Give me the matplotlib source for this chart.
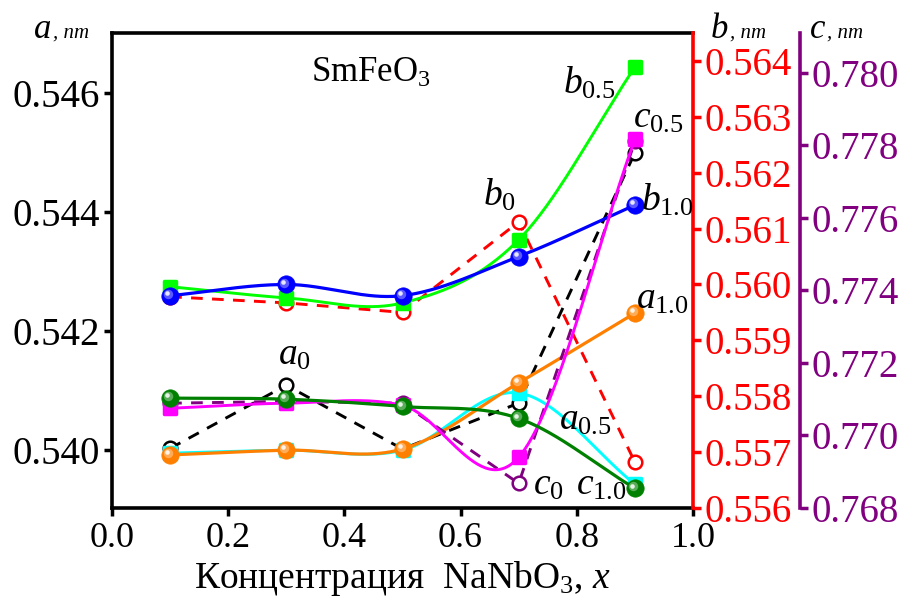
import numpy as np
import matplotlib
matplotlib.use("Agg")
import matplotlib.pyplot as plt
from matplotlib.markers import MarkerStyle
from matplotlib.transforms import ScaledTranslation
from matplotlib.colors import to_rgb

plt.rcParams.update({
    "font.family": ["Liberation Serif", "DejaVu Serif"],
    "mathtext.fontset": "custom",
    "mathtext.rm": "Liberation Serif",
    "mathtext.it": "Liberation Serif:italic",
    "mathtext.bf": "Liberation Serif:bold",
})

# NaNbO3 concentration
conc = [0.1, 0.3, 0.5, 0.7, 0.9]

# lattice parameter a, nm
a_0 = [0.54003, 0.54109, 0.54002, 0.54079, 0.54499]
a_05 = [0.53995, 0.54000, 0.54000, 0.54096, 0.53943]
a_10 = [0.53992, 0.54000, 0.54002, 0.54113, 0.54230]

# lattice parameter b, nm
b_0 = [0.55978, 0.55967, 0.55950, 0.56112, 0.55682]
b_05 = [0.55996, 0.55976, 0.55967, 0.56080, 0.56389]
b_10 = [0.55980, 0.56000, 0.55980, 0.56050, 0.56142]

# lattice parameter c, nm
c_0 = [0.77089, 0.77094, 0.77089, 0.76868, 0.77811]
c_05 = [0.77075, 0.77089, 0.77083, 0.76940, 0.77817]
c_10 = [0.77103, 0.77100, 0.77080, 0.77047, 0.76854]

x_ticks = [0.0, 0.2, 0.4, 0.6, 0.8, 1.0]
a_ticks = [0.540, 0.542, 0.544, 0.546]
b_ticks = [0.556, 0.557, 0.558, 0.559, 0.560, 0.561, 0.562, 0.563, 0.564]
c_ticks = [0.768, 0.770, 0.772, 0.774, 0.776, 0.778, 0.780]

RED = "#ff0000"
PURPLE = "#800080"


def smooth_curve(xs, ys, per_seg=60):
    """Cubic Hermite (Catmull-Rom) curve through the points."""
    xs = np.asarray(xs, float)
    ys = np.asarray(ys, float)
    n = len(xs)
    m = np.zeros(n)
    m[0] = (ys[1] - ys[0]) / (xs[1] - xs[0])
    m[-1] = (ys[-1] - ys[-2]) / (xs[-1] - xs[-2])
    m[1:-1] = (ys[2:] - ys[:-2]) / (xs[2:] - xs[:-2])
    out_x, out_y = [], []
    t = np.linspace(0, 1, per_seg)
    for i in range(n - 1):
        h = xs[i + 1] - xs[i]
        h00 = 2 * t ** 3 - 3 * t ** 2 + 1
        h10 = t ** 3 - 2 * t ** 2 + t
        h01 = -2 * t ** 3 + 3 * t ** 2
        h11 = t ** 3 - t ** 2
        out_x.append(xs[i] + t * h)
        out_y.append(h00 * ys[i] + h10 * h * m[i] + h01 * ys[i + 1] + h11 * h * m[i + 1])
    return np.concatenate(out_x), np.concatenate(out_y)


def lighten(color, f):
    c = np.array(to_rgb(color))
    return tuple(c + (1 - c) * f)


def open_series(axis, ys, color):
    axis.plot(conc, ys, color=color, lw=2.1, ls=(0, (4, 3.2)),
              marker="o", ms=9.8, mfc="white", mec=color, mew=1.8)


def square_series(axis, ys, color):
    xf, yf = smooth_curve(conc, ys)
    axis.plot(xf, yf, color=color, lw=2.1)
    axis.plot(conc, ys, ls="none", marker=MarkerStyle("s", joinstyle="round"),
              ms=9, mfc=color, mec=color, mew=2.5)


def ball_series(axis, ys, color, fig):
    xf, yf = smooth_curve(conc, ys)
    axis.plot(xf, yf, color=color, lw=2.3)
    axis.plot(conc, ys, ls="none", marker="o", ms=12.5, mfc=color, mec=color, mew=0.5)
    shift1 = axis.transData + ScaledTranslation(-1.4 / 72, 1.4 / 72, fig.dpi_scale_trans)
    shift2 = axis.transData + ScaledTranslation(-2.1 / 72, 2.1 / 72, fig.dpi_scale_trans)
    axis.plot(conc, ys, ls="none", marker="o", ms=6.8, mfc=lighten(color, 0.35),
              mec="none", transform=shift1)
    axis.plot(conc, ys, ls="none", marker="o", ms=3.3, mfc=lighten(color, 0.9),
              mec="none", transform=shift2)


fig = plt.figure(figsize=(8.99, 6.0), dpi=100)
ax = fig.add_axes([112 / 899, 1 - 508 / 600, 581 / 899, 475 / 600])
axb = ax.twinx()
axc = ax.twinx()
axc.spines["right"].set_position(("axes", 688 / 581))

# a series (left axis)
open_series(ax, a_0, "black")
square_series(ax, a_05, "#00ffff")
ball_series(ax, a_10, "#ff8000", fig)

# b series (red axis)
open_series(axb, b_0, RED)
square_series(axb, b_05, "#00ff00")
ball_series(axb, b_10, "#0000ff", fig)

# c series (purple axis)
open_series(axc, c_0, PURPLE)
square_series(axc, c_05, "#ff00ff")
ball_series(axc, c_10, "#008000", fig)

ax.set_xlim(0.0, 1.0)
ax.set_ylim(0.53903, 0.54700)
axb.set_ylim(0.556, 0.5645)
axc.set_ylim(0.768, 0.7811)

ax.set_xticks(x_ticks)
ax.set_xticklabels([f"{v:.1f}" for v in x_ticks])
ax.set_yticks(a_ticks)
ax.set_yticklabels([f"{v:.3f}" for v in a_ticks])
axb.set_yticks(b_ticks)
axb.set_yticklabels([f"{v:.3f}" for v in b_ticks])
axc.set_yticks(c_ticks)
axc.set_yticklabels([f"{v:.3f}" for v in c_ticks])

lw_sp = 2.6
for side in ["left", "bottom", "top"]:
    ax.spines[side].set_linewidth(lw_sp)
ax.spines["right"].set_visible(False)
for a_ in (axb, axc):
    for side in ["left", "bottom", "top"]:
        a_.spines[side].set_visible(False)
axb.spines["right"].set_color(RED)
axb.spines["right"].set_linewidth(lw_sp)
axc.spines["right"].set_color(PURPLE)
axc.spines["right"].set_linewidth(lw_sp)

ax.tick_params(axis="both", direction="out", length=6, width=2.5, pad=4,
               top=False, right=False)
ax.tick_params(axis="x", labelsize=26)
ax.tick_params(axis="y", labelsize=28, pad=3)
axb.tick_params(axis="y", direction="out", length=6, width=2.5, labelsize=28, pad=2,
                colors=RED)
axc.tick_params(axis="y", direction="out", length=6, width=2.5, labelsize=28, pad=2,
                colors=PURPLE)

ax.set_xlabel("Концентрация  NaNbO$_\\mathrm{3}$, $x$", fontsize=27, labelpad=3)

# axis titles
ty = 1 - 38 / 600
for xs, letter in ((51, "a"), (728, "b"), (825, "c")):
    fig.text(xs / 899, ty, letter, ha="right", va="baseline", fontsize=25,
             style="italic")
    fig.text(xs / 899 + 0.002, ty, ", nm", ha="left", va="baseline", fontsize=15,
             style="italic")

ax.text(0.446, 0.916, "SmFeO$_\\mathrm{3}$", transform=ax.transAxes, fontsize=25,
        ha="center", va="center")

# series labels
labels = [
    (ax, a_0, 1, "$a_\\mathrm{0}$", (5.8, 21.6)),
    (ax, a_05, 3, "$a_\\mathrm{0.5}$", (48, -20)),
    (ax, a_10, 4, "$a_\\mathrm{1.0}$", (20, 10)),
    (axb, b_0, 3, "$b_\\mathrm{0}$", (-13.7, 19.4)),
    (axb, b_05, 4, "$b_\\mathrm{0.5}$", (-33, -11.5)),
    (axb, b_10, 4, "$b_\\mathrm{1.0}$", (23, 3.6)),
    (axc, c_0, 3, "$c_\\mathrm{0}$", (21.6, -1.4)),
    (axc, c_05, 4, "$c_\\mathrm{0.5}$", (16.6, 15)),
    (axc, c_10, 4, "$c_\\mathrm{1.0}$", (-24.5, 2)),
]
for src, ys, i, txt, off in labels:
    axc.annotate(txt, xy=(conc[i], ys[i]), xycoords=src.transData, xytext=off,
                 textcoords="offset points", ha="center", va="center", fontsize=27)

fig.savefig("out.png", dpi=100)
